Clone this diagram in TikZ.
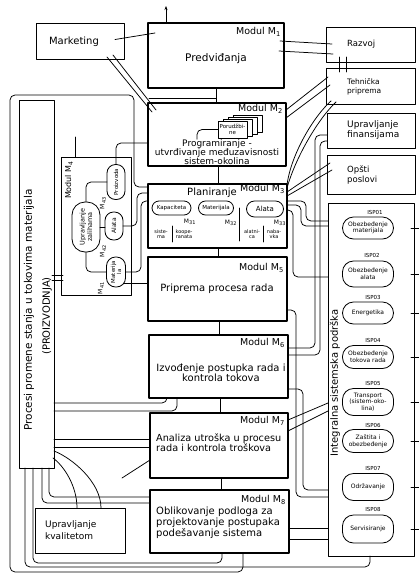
\documentclass[tikz,border=0pt]{standalone}
\usepackage{fontspec}
\setmainfont{DejaVu Sans}
\usetikzlibrary{arrows.meta}
\newcommand\fsz[2]{\fontsize{#1}{#2}\selectfont}
\tikzset{
  modbox/.style={draw, line width=1.4pt, inner sep=0pt, outer sep=0pt},
  sidebox/.style={draw, line width=1pt, inner sep=0pt, outer sep=0pt},
  stad/.style={draw, line width=0.8pt, rounded corners=#1, inner sep=0pt, outer sep=0pt},
  conn/.style={line width=0.75pt},
  rconn/.style={line width=0.75pt, rounded corners=5pt},
  modlabel/.style={font=\fsz{9.5}{10}, anchor=east, inner sep=0pt},
  txt/.style={inner sep=0pt, align=center},
  isplabel/.style={font=\fsz{5.5}{6}, inner sep=0pt},
  isptext/.style={font=\fsz{6}{6.5}, inner sep=0pt, align=center},
  sheet/.style={draw, fill=white, line width=0.7pt, minimum width=29pt, minimum height=17pt, inner sep=0pt},
}
\begin{document}
\begin{tikzpicture}[x=1pt,y=-1pt,line join=round,line cap=round]
\fill[white] (0,0) rectangle (419,574);
\useasboundingbox (0,0) rectangle (419,574);

% ---------- top row
\node[sidebox, minimum width=88pt, minimum height=36pt] (mkt) at (80,41) {};
\node[txt, font=\fsz{10}{10}] (mktt) at (74,42) {Marketing};

\node[modbox, minimum width=136pt, minimum height=65pt] (m1) at (216,55.5) {};
\node[modlabel] (m1l) at ([shift={(-3,9)}]m1.north east) {Modul M\textsubscript{1}};
\node[txt, font=\fsz{10.5}{11}] (m1t) at (216,59) {Predviđanja};

% ---------- right column boxes
\node[sidebox, minimum width=89pt, minimum height=35pt] (rez) at (370.5,44.5) {};
\node[txt, anchor=west, font=\fsz{8.5}{9}] (rezt) at (347,44) {Razvoj};
\node[sidebox, minimum width=89pt, minimum height=36pt] (teh) at (370.5,86) {};
\node[txt, anchor=west, align=left, font=\fsz{7.5}{9}] (teht) at (347,86.5) {Tehnička\\priprema};
\node[sidebox, minimum width=88pt, minimum height=35pt] (fin) at (371,130.5) {};
\node[txt, anchor=west, align=left, font=\fsz{9}{10}] (fint) at (347,130) {Upravljanje\\finansijama};
\node[sidebox, minimum width=88pt, minimum height=39pt] (ops) at (371,174.5) {};
\node[txt, anchor=west, align=left, font=\fsz{8.5}{10}] (opst) at (347,175) {Opšti\\poslovi};

\node[sidebox, minimum width=86pt, minimum height=353pt] (isp) at (371,379.5) {};
\node[txt, rotate=90, font=\fsz{10}{10}] (ispt) at (335,383) {Integralna sistemska podrška};

\node[stad=11pt, minimum width=51pt, minimum height=22pt] (isp1) at (368,228) {};
\node[isptext] (isp1t) at (isp1) {Obezbeđenje\\materijala};
\node[isplabel] (isl1) at (375,212) {ISP01};
\node[stad=11pt, minimum width=51pt, minimum height=26pt] (isp2) at (368,274) {};
\node[isptext] (isp2t) at (isp2) {Obezbeđenje\\alata};
\node[isplabel] (isl2) at (372,255) {ISP02};
\node[stad=11pt, minimum width=51pt, minimum height=22pt] (isp3) at (368,313) {};
\node[isptext] (isp3t) at (isp3) {Energetika};
\node[isplabel] (isl3) at (373,297) {ISP03};
\node[stad=11pt, minimum width=51pt, minimum height=23pt] (isp4) at (368,357) {};
\node[isptext] (isp4t) at (isp4) {Obezbeđenje\\tokova rada};
\node[isplabel] (isl4) at (373,340) {ISP04};
\node[stad=11pt, minimum width=51pt, minimum height=27pt] (isp5) at (368,402) {};
\node[isptext] (isp5t) at (isp5) {Transport\\(sistem-oko-\\lina)};
\node[isplabel] (isl5) at (373,383) {ISP05};
\node[stad=11pt, minimum width=51pt, minimum height=23pt] (isp6) at (368,441) {};
\node[isptext] (isp6t) at (isp6) {Zaštita i\\obezbeđenje};
\node[isplabel] (isl6) at (373,425) {ISP06};
\node[stad=11pt, minimum width=51pt, minimum height=27pt] (isp7) at (368,487) {};
\node[isptext] (isp7t) at (isp7) {Održavanje};
\node[isplabel] (isl7) at (373,468) {ISP07};
\node[stad=11pt, minimum width=51pt, minimum height=28pt] (isp8) at (368,529) {};
\node[isptext] (isp8t) at (isp8) {Servisiranje};
\node[isplabel] (isl8) at (373,509) {ISP08};
\foreach \n in {isp1,isp2,isp3,isp4,isp5,isp6,isp7,isp8}
  \draw[conn] ([xshift=-3pt]isp.east |- \n) -- ++(8,0);

% ---------- module M2
\node[modbox, minimum width=138pt, minimum height=63pt] (m2) at (217,134.5) {};
\node[modlabel] (m2l) at ([shift={(-3,5.5)}]m2.north east) {Modul M\textsubscript{2}};
\node[sheet] (por3) at (247.5,123.5) {};
\node[sheet] (por2) at (242.5,125.5) {};
\node[sheet] (por1) at (237.5,127.5) {};
\node[sheet, font=\fsz{5.5}{6}, align=center] (por) at (232.5,129.5) {Porudžbi-\\ne};
\node[txt, font=\fsz{9}{9}] (m2t) at (217,152) {Programiranje -\\utvrđivanje međuzavisnosti\\sistem-okolina};
\draw[rconn] (por.west) -| ([xshift=-20pt]m2t.north);

% ---------- module M3
\node[modbox, minimum width=139pt, minimum height=64pt] (m3) at (217.5,216) {};
\node[modlabel] (m3l) at ([shift={(-2,5)}]m3.north east) {Modul M\textsubscript{3}};
\node[txt, font=\fsz{10}{10}] (m3t) at (212,193) {Planiranje};
\node[stad=7pt, minimum width=39pt, minimum height=14pt] (kap) at (171.5,208) {};
\node[txt, font=\fsz{5.5}{6}] (kapt) at (kap) {Kapaciteta};
\node[stad=7pt, minimum width=35pt, minimum height=14pt] (mtj) at (216,208) {};
\node[txt, font=\fsz{5.5}{6}] (mtjt) at (mtj) {Materijala};
\node[stad=8pt, minimum width=37pt, minimum height=16pt] (alt) at (265,209) {};
\node[txt, font=\fsz{7}{7}] (altt) at (alt) {Alata};
\node[txt, font=\fsz{6}{6}] (m31) at (190,222) {M\textsubscript{31}};
\node[txt, font=\fsz{6}{6}] (m32) at (231,223) {M\textsubscript{32}};
\node[txt, font=\fsz{6}{6}] (m33) at (280,223) {M\textsubscript{33}};
\node[txt, font=\fsz{5}{5.5}] (s1) at (161,234) {siste-\\ma};
\node[txt, font=\fsz{5}{5.5}] (s2) at (184,234) {koope-\\ranata};
\node[txt, font=\fsz{5}{5.5}] (s3) at (252,234) {alatni-\\ca};
\node[txt, font=\fsz{5}{5.5}] (s4) at (274,234) {naba-\\vka};
\draw[conn] (172,226) -- (172,242);
\draw[conn] (239.5,208) -- (239.5,241);
\draw[conn] (263,226) -- (263,242);

% ---------- module M4
\node[sidebox, minimum width=70pt, minimum height=138pt] (m4) at (96,226) {};
\node[txt, rotate=90, font=\fsz{8}{8}] (m4l) at (69,180) {Modul M\textsubscript{4}};
\node[stad=13pt, minimum width=28pt, minimum height=50pt] (uz) at (86,227) {};
\node[txt, rotate=90, font=\fsz{6.5}{7.5}] (uzt) at (uz) {Upravljanje\\zalihama};
\node[stad=8.5pt, minimum width=18pt, minimum height=35pt] (pro) at (116,182) {};
\node[txt, rotate=90, font=\fsz{5.5}{6}] (prot) at (pro) {Proizvoda};
\node[stad=8.5pt, minimum width=18pt, minimum height=28pt] (ala) at (114,226) {};
\node[txt, rotate=90, font=\fsz{6}{6}] (alat) at (ala) {Alata};
\node[stad=9pt, minimum width=19pt, minimum height=30pt] (mat) at (116,272) {};
\node[txt, rotate=90, font=\fsz{5.5}{6}] (matt) at (mat) {Materija\\la};
\node[txt, rotate=90, font=\fsz{6}{6}] (m43) at (103,203) {M\textsubscript{43}};
\node[txt, rotate=90, font=\fsz{6}{6}] (m42) at (103,251) {M\textsubscript{42}};
\node[txt, rotate=90, font=\fsz{6}{6}] (m41) at (101,288) {M\textsubscript{41}};
\draw[rconn] (uz.north) |- (pro.west);
\draw[conn] (uz.east) -- (ala.west |- uz.east);
\draw[rconn] (uz.south) |- (mat.west);

% ---------- modules M5 - M8
\node[modbox, minimum width=139pt, minimum height=64pt] (m5) at (217.5,289) {};
\node[modlabel] (m5l) at ([shift={(-3,11)}]m5.north east) {Modul M\textsubscript{5}};
\node[txt, font=\fsz{10}{10}] (m5t) at (217,289) {Priprema procesa rada};

\node[modbox, minimum width=139pt, minimum height=63pt] (m6) at (218.5,366.5) {};
\node[modlabel] (m6l) at ([shift={(-3,8)}]m6.north east) {Modul M\textsubscript{6}};
\node[txt, font=\fsz{10}{10}] (m6t) at (221,373) {Izvođenje postupka rada i\\kontrola tokova};

\node[modbox, minimum width=138pt, minimum height=65pt] (m7) at (219,445.5) {};
\node[modlabel] (m7l) at ([shift={(-3,8)}]m7.north east) {Modul M\textsubscript{7}};
\node[txt, anchor=west, align=left, font=\fsz{9.7}{10}] (m7t) at (156,443) {Analiza utroška u procesu\\rada i kontrola troškova};

\node[modbox, minimum width=139pt, minimum height=63pt] (m8) at (219.5,521.5) {};
\node[modlabel] (m8l) at ([shift={(-3,10)}]m8.north east) {Modul M\textsubscript{8}};
\node[txt, anchor=west, align=left, font=\fsz{10}{11}] (m8t) at (156,523) {Oblikovanje podloga za\\projektovanje postupaka\\podešavanje sistema};

% ---------- left: production and quality
\node[sidebox, minimum width=35pt, minimum height=368pt] (proc) at (36.5,284) {};
\node[txt, rotate=90, font=\fsz{10.5}{10.5}] (proct1) at (29,310) {Procesi promene stanja u tokovima materijala};
\node[txt, rotate=90, font=\fsz{10}{10}] (proct2) at (47,316) {(PROIZVODNJA)};
\node[sidebox, minimum width=90pt, minimum height=45pt] (kval) at (80,530.5) {};
\node[txt, anchor=west, align=left, font=\fsz{9}{12}] (kvalt) at (45,530) {Upravljanje\\kvalitetom};

% ---------- connectors, top
\coordinate (topout) at (166,6);
\draw[conn, -{Stealth[length=4pt,width=3pt]}] (m1.north -| topout) -- (topout);
\draw[conn] ([shift={(-9,-1.5)}]mkt.east) -- ([shift={(7,-22.5)}]m1.west);
\draw[conn] ([shift={(-17,-2)}]mkt.south east) -- ([shift={(4,9)}]m2.north west);
\draw[conn] ([shift={(-11,-4)}]mkt.south east) -- ([shift={(8,7)}]m2.north west);
\draw[conn] ([shift={(-4,-14.5)}]m1.east) -- ([shift={(6,-0.5)}]rez.west);
\draw[conn] ([shift={(-5,-4.5)}]m1.east) -- ([shift={(7,9.5)}]rez.west);
\draw[conn, shorten <=-5pt, shorten >=-4pt] (rez.south -| 339,0) -- (teh.north -| 339,0);
\draw[conn, shorten <=-5pt, shorten >=-4pt] (rez.south -| 346,0) -- (teh.north -| 346,0);

% ---------- module chain
\draw[conn] (m1.south -| 216,0) -- (m2.north -| 216,0);
\draw[conn] ([xshift=1pt]m2.north west |- 0,98) -| (m1.south -| 216,0);
\draw[conn] (m2.south -| 218,0) -- (m3.north -| 218,0);
\draw[conn] (m3.south -| 218,0) -- (m5.north -| 218,0);
\draw[conn] (m5.south -| 219,0) -- (m6.north -| 219,0);
\draw[conn] (m6.south -| 220,0) -- (m7.north -| 220,0);
\draw[conn] (m7.south -| 221,0) -- (m8.north -| 221,0);

% ---------- right side connectors
\draw[conn] (m2.east |- 0,110) -- ([shift={(2,-9)}]teh.west);
\draw[conn] (m2.east |- 0,118) -- ([shift={(4,-1)}]teh.west);
\draw[conn] (m3.east |- 0,185) .. controls ([shift={(4,-30)}]m3.north east) and ([shift={(-12,12)}]teh.south west) .. ([shift={(5,-3)}]teh.south west);
\draw[conn] (m3.east |- 0,188) .. controls ([shift={(9,-28)}]m3.north east) and ([shift={(-7,14)}]teh.south west) .. ([shift={(10,-2)}]teh.south west);
\draw[conn] (m3.east |- 0,192) -- ([xshift=3pt]ops.west |- 0,163);
\draw[conn] (m3.east |- 0,196) -- ([xshift=5pt]ops.west |- 0,170);
\draw[rconn] (m3.east |- 0,201) -| (306,221) -- (isp.west |- 0,221);
\draw[rconn] (m3.east |- 0,205) -| (301,226) -- (isp.west |- 0,226);
\draw[rconn] (m3.east |- 0,210) -| (293,277) -- (isp.west |- 0,277);
\draw[rconn] (fin.west |- 0,135) -| (315,348) -- (m6.east |- 0,348);
\draw[rconn] (fin.west |- 0,141) -| (320,355) -- (m6.east |- 0,355);
\draw[rconn] (m5.east |- 0,310) -| (296,497) -- (isp.west |- 0,497);
\draw[rconn] (m6.east |- 0,389) -| (303,490) -- (isp.west |- 0,490);
\draw[conn] (isp.west |- 0,403) -- (m7.east |- 0,420);
\draw[conn] (isp.west |- 0,411) -- (m7.east |- 0,431);
\draw[conn] (m8.east |- 0,528) -- (isp.west |- 0,528);
\draw[conn] (m8.east |- 0,539) -- (isp.west |- 0,539);

% ---------- left side connectors
\draw[rconn] (m8.south -| 243,0) |- (10,572) |- (134,95) |- (m3.west |- 0,187);
\draw[rconn] (proc.south -| 25,0) |- (370,567) -- (isp.south -| 370,0);
\draw[rconn] (proc.south -| 33,0) |- (222,563) -- (m8.south -| 222,0);
\draw[rconn] (proc.south -| 42,0) |- (m8.west |- 0,503);
\draw[rconn] (proc.south -| 49,0) |- (m8.west |- 0,497);
\draw[conn] (kval.north -| 77,0) .. controls (77,486) and (64,466) .. ([shift={(-1,-10)}]proc.south east);
\draw[conn] (kval.north -| 101,0) .. controls (101,482) and (72,458) .. ([shift={(0,-17)}]proc.south east);
\draw[conn] (proc.east |- 0,439) -- (m7.west |- 0,439);
\draw[conn] (proc.east |- 0,447) -- (m7.west |- 0,447);
\coordinate (m7free) at (122,478);
\draw[conn] (m7.west |- 0,460) -- (m7free);
\draw[rconn] (proc.east |- 0,403) -| (m6.south -| 167,0);
\draw[rconn] (proc.east |- 0,411) -| (m6.south -| 177,0);
\draw[conn, shorten <=-2pt, shorten >=-2pt] (proc.east |- 0,275) -- (m4.west |- 0,275);
\draw[conn, shorten <=-2pt, shorten >=-2pt] (proc.east |- 0,280) -- (m4.west |- 0,280);
\coordinate (m4free) at (75,137);
\draw[conn] (m4.north -| m4free) -- (m4free);
\draw[rconn] (pro.north) |- (m2.west |- 0,143);
\draw[rconn] (ala.east) -- (ala.east -| 137,0) |- (m3.west |- 0,193);
\draw[rconn] (mat.east) -- (mat.east -| 141,0) |- (m3.west |- 0,201);
\draw[conn] ([shift={(-2,11)}]mat.east) -- (m5.west |- 0,283);
\end{tikzpicture}
\end{document}
